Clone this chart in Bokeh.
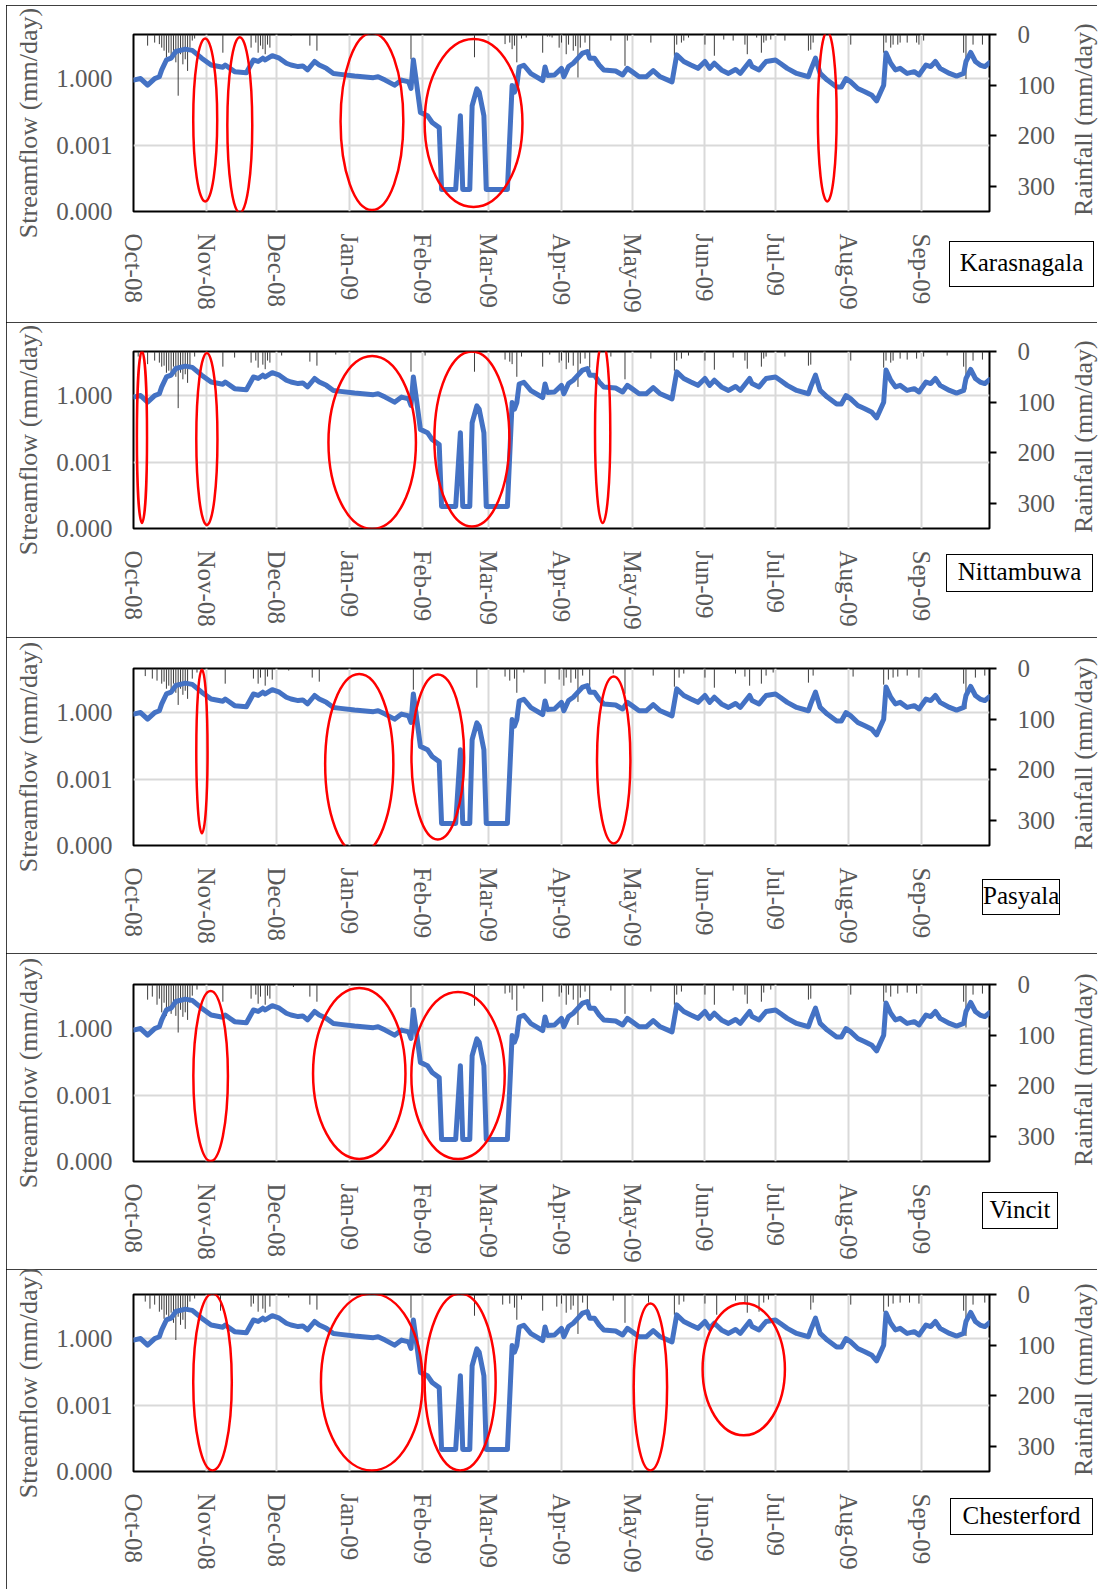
from bokeh.plotting import figure
from bokeh.models import Range1d, LinearAxis, LinearScale, FixedTicker, PrintfTickFormatter, ColumnDataSource, Div
from bokeh.layouts import column
from bokeh.embed import file_html
from bokeh.resources import INLINE

# ---------------- data ----------------
# x = days since 1 Oct 2008
month_days = [0, 31, 61, 92, 123, 151, 182, 212, 243, 273, 304, 335]
month_labels = ["Oct-08", "Nov-08", "Dec-08", "Jan-09", "Feb-09", "Mar-09",
                "Apr-09", "May-09", "Jun-09", "Jul-09", "Aug-09", "Sep-09"]

flow_day = [0, 3, 6, 9, 11, 12, 14, 16, 18, 22, 25, 29, 33, 38, 39, 43, 48, 51, 53, 55,
            56, 59, 62, 65, 67, 70, 72, 74, 77, 79, 82, 85, 88, 94, 102, 104, 107, 111, 114, 117,
            118, 119, 120, 122, 125, 127, 130, 131, 137, 139, 140, 143, 144, 146, 147, 149, 150, 159, 161, 162,
            163, 164, 166, 169, 174, 175, 176, 179, 182, 183, 185, 187, 189, 191, 193, 194, 196, 198, 200, 205,
            208, 210, 212, 215, 218, 221, 224, 229, 231, 234, 237, 240, 243, 245, 247, 250, 253, 256, 258, 262,
            263, 266, 269, 273, 275, 278, 282, 287, 288, 290, 292, 295, 299, 301, 303, 305, 308, 311, 314, 316,
            319, 320, 322, 324, 326, 329, 332, 334, 337, 339, 341, 343, 347, 350, 353, 354, 356, 358, 360, 362, 364]
flow_mm = [0.871, 1.02, 0.513, 1.02, 1.23, 2.51, 7.08, 8.51, 17.0, 21.9, 19.1, 8.51, 4.17, 3.31, 4.17, 2.09, 1.86, 7.08, 6.03, 8.51,
           7.08, 11.0, 8.51, 5.01, 4.17, 3.55, 3.80, 2.51, 6.03, 4.17, 2.95, 1.74, 1.58, 1.32, 1.12, 1.23, 0.871, 0.513, 0.871, 0.724,
           0.363, 7.08, 1.23, 0.0302, 0.0214, 0.0105, 0.00617, 0.00001, 0.00001, 0.0214, 0.00001, 0.00001, 0.0603, 0.347, 0.245, 0.0214, 0.00001, 0.00001, 0.490, 0.245,
           0.490, 3.39, 4.07, 1.70, 0.832, 3.39, 1.41, 1.48, 2.95, 1.23, 3.55, 5.01, 8.51, 14.5, 17.0, 8.51, 8.51, 4.17, 2.51, 2.24,
           1.48, 2.95, 2.09, 1.23, 1.23, 2.34, 1.23, 0.724, 12.0, 6.03, 4.17, 2.95, 6.03, 2.95, 5.01, 2.51, 1.74, 2.63, 1.74, 6.03,
           3.55, 2.51, 6.03, 7.08, 5.01, 2.95, 1.74, 1.23, 2.51, 8.51, 1.74, 0.871, 0.427, 0.427, 1.02, 0.724, 0.363, 0.257, 0.178, 0.100,
           0.513, 14.5, 5.01, 2.51, 2.95, 1.74, 2.09, 1.48, 4.17, 3.55, 6.03, 2.95, 1.74, 1.32, 1.74, 6.03, 15.5, 6.03, 4.17, 3.55, 5.37]

stations = ["Karasnagala", "Nittambuwa", "Pasyala", "Vincit", "Chesterford"]
left_title = "Streamflow (mm/day)"
right_title = "Rainfall (mm/day)"

rain_day_karasnagala = [6, 9, 11, 12, 13, 14, 15, 16, 17, 18, 19, 20, 21, 22, 23, 24, 25, 26,
                        38, 50, 52, 53, 54, 55, 56, 57, 58, 67, 75, 78,
                        118, 145, 158, 160, 161, 162, 163, 165, 167, 174, 176, 177, 178, 181, 182, 184, 185, 187, 188, 189,
                        190, 192, 194, 203, 209, 210, 220, 230, 231, 233, 234, 236, 243, 247, 251, 255, 260, 261, 265, 267,
                        268, 269, 271, 277, 287, 288, 289, 305, 319, 320, 322, 323, 325, 326, 329, 333, 334, 336, 353, 354, 357, 361]
rain_mm_karasnagala = [22, 16, 19, 26, 32, 45, 36, 49, 32, 55, 121, 39, 59, 49, 72, 26, 12, 8,
                       36, 26, 16, 36, 22, 29, 39, 20, 26, 3, 22, 32,
                       49, 45, 19, 16, 29, 22, 55, 8, 6, 36, 4, 4, 6, 26, 16, 39, 20, 32, 23, 85,
                       26, 16, 39, 12, 62, 12, 16, 42, 20, 16, 12, 6, 20, 42, 10, 12, 20, 39, 6, 36,
                       16, 12, 10, 12, 32, 30, 16, 20, 36, 16, 26, 20, 20, 16, 16, 16, 20, 12, 36, 88, 20, 20]

rain_day_nittambuwa = [2, 6, 9, 11, 12, 13, 14, 15, 16, 17, 18, 19, 20, 21, 22, 23, 24, 26, 38, 43,
                       50, 52, 53, 55, 56, 57, 58, 63, 75, 78, 86, 118, 124, 145, 158, 160, 161, 163, 165, 174,
                       177, 181, 182, 184, 185, 187, 189, 190, 192, 194, 203, 209, 220, 230, 231, 233, 236, 243, 247, 255,
                       260, 261, 267, 268, 269, 277, 287, 288, 305, 319, 320, 322, 323, 326, 329, 333, 336, 346, 353, 354,
                       357, 361]
rain_mm_nittambuwa = [10, 25, 18, 22, 30, 28, 42, 38, 45, 30, 50, 112, 42, 55, 45, 62, 30, 10, 30, 12,
                      22, 18, 32, 26, 35, 18, 22, 8, 20, 28, 6, 40, 8, 40, 16, 20, 25, 50, 10, 30,
                      6, 22, 18, 35, 22, 28, 70, 24, 14, 32, 10, 55, 14, 38, 18, 14, 8, 18, 36, 12,
                      18, 34, 30, 14, 10, 10, 28, 26, 18, 32, 18, 22, 18, 14, 16, 14, 10, 8, 30, 75,
                      18, 16]

rain_day_pasyala = [5, 8, 10, 12, 13, 14, 15, 16, 17, 18, 19, 20, 21, 22, 23, 25, 27, 39, 51, 53,
                    54, 56, 57, 59, 66, 76, 79, 119, 146, 158, 160, 162, 163, 166, 175, 181, 183, 184, 186, 188,
                    189, 191, 194, 204, 209, 221, 230, 232, 234, 243, 247, 256, 260, 262, 267, 269, 272, 287, 289, 306,
                    319, 321, 323, 325, 329, 334, 353, 354, 358, 362]
rain_mm_pasyala = [15, 20, 24, 30, 26, 40, 34, 44, 30, 48, 72, 40, 52, 44, 60, 20, 8, 30, 20, 30,
                   18, 34, 16, 22, 4, 18, 26, 42, 38, 16, 24, 20, 48, 8, 30, 22, 34, 18, 28, 20,
                   66, 14, 34, 10, 50, 14, 36, 18, 10, 18, 38, 10, 16, 34, 30, 14, 8, 28, 14, 16,
                   32, 22, 18, 16, 14, 18, 30, 80, 18, 14]

rain_day_vincit = [6, 8, 10, 11, 12, 13, 14, 15, 16, 17, 18, 19, 20, 21, 22, 23, 24, 25, 27, 38,
                   50, 52, 53, 54, 56, 57, 58, 68, 75, 78, 118, 145, 158, 160, 161, 163, 166, 174, 181, 182,
                   184, 185, 187, 189, 190, 192, 194, 203, 209, 220, 230, 231, 233, 243, 247, 255, 260, 261, 267, 268,
                   271, 287, 288, 305, 319, 320, 322, 325, 329, 333, 353, 354, 357, 361]
rain_mm_vincit = [30, 24, 40, 28, 55, 36, 62, 48, 58, 40, 62, 95, 50, 64, 55, 70, 36, 22, 10, 34,
                  28, 20, 38, 24, 40, 22, 28, 5, 24, 34, 45, 42, 18, 16, 30, 52, 8, 34, 24, 16,
                  40, 20, 30, 80, 26, 14, 36, 12, 58, 14, 40, 20, 14, 20, 40, 12, 20, 38, 34, 16,
                  10, 30, 28, 20, 34, 16, 24, 18, 16, 18, 34, 85, 20, 18]

rain_day_chesterford = [5, 7, 9, 11, 12, 13, 14, 15, 16, 17, 18, 19, 20, 21, 22, 23, 24, 26, 37, 50,
                        51, 53, 55, 56, 58, 66, 75, 78, 118, 145, 157, 160, 162, 163, 165, 174, 180, 182, 184, 186,
                        187, 189, 191, 193, 204, 209, 219, 230, 232, 234, 243, 248, 256, 260, 261, 266, 268, 270, 288, 289,
                        305, 319, 321, 323, 326, 330, 334, 353, 354, 357, 362]
rain_mm_chesterford = [14, 28, 20, 34, 30, 48, 40, 52, 36, 56, 90, 44, 60, 50, 68, 28, 14, 8, 32, 24,
                       18, 34, 28, 36, 24, 6, 20, 30, 46, 42, 20, 18, 26, 50, 10, 32, 24, 18, 36, 30,
                       22, 78, 16, 36, 12, 56, 16, 40, 20, 14, 18, 40, 12, 18, 36, 34, 16, 10, 30, 16,
                       20, 34, 24, 18, 16, 16, 18, 32, 82, 20, 16]

rain_days = [rain_day_karasnagala, rain_day_nittambuwa, rain_day_pasyala, rain_day_vincit, rain_day_chesterford]
rain_mms = [rain_mm_karasnagala, rain_mm_nittambuwa, rain_mm_pasyala, rain_mm_vincit, rain_mm_chesterford]

# highlighted periods: (centre day, width in days, centre on rainfall axis, height px)
ellipses = [
    [(30.5, 10.2, 169, 163), (45.2, 10.6, 179, 176), (101.4, 26.7, 172, 177), (144.6, 41.6, 175, 168), (295.0, 8.0, 162, 170)],
    [(3.6, 4.3, 169, 172), (31.2, 9.0, 173, 172), (101.5, 37.2, 180, 173), (143.9, 31.9, 173, 175), (199.5, 6.5, 160, 181)],
    [(29.1, 4.8, 164, 164), (96.0, 29.0, 189, 180), (129.4, 22.4, 175, 165), (204.2, 14.2, 181, 167)],
    [(32.8, 14.7, 181, 170), (96.0, 39.3, 176, 171), (138.0, 39.7, 180, 167)],
    [(33.6, 16.4, 173, 177), (101.3, 43.2, 173, 177), (138.9, 30.2, 173, 177), (219.8, 14.2, 183, 167), (259.5, 35.0, 148, 132)],
]

# ---------------- layout / style ----------------
FONT = "Liberation Serif"
GREY = "#595959"
PANEL_W = 1091
PANEL_HS = [317, 315, 316, 316, 320]
FRAME_TOPS = [29, 29, 31, 31, 25]
FRAME_H = 177
# station name boxes: (left, top, width, height) in px inside each panel
name_boxes = [(943, 236, 145, 46), (940, 232, 147, 38), (976, 242, 78, 36), (976, 239, 76, 37), (944, 229, 143, 37)]


def overlay(text, H, left, top, w, h, styles):
    """An HTML box drawn over the figure above it (zero net height in the column)."""
    return Div(text=text, width=w, height=h, margin=(-(H - top), 0, H - top - h, left), styles=styles)


def make_panel(i):
    H = PANEL_HS[i]
    top = FRAME_TOPS[i]
    p = figure(width=PANEL_W, height=H, y_axis_type="log",
               x_range=Range1d(0, 364), y_range=Range1d(1e-6, 1e2),
               output_backend="svg", toolbar_location=None,
               min_border_left=127, min_border_right=108, min_border_top=top,
               min_border_bottom=H - top - FRAME_H)
    p.extra_y_ranges = {"rain": Range1d(350, 0)}
    p.extra_y_scales = {"rain": LinearScale()}
    p.outline_line_color = "black"
    p.outline_line_width = 2
    p.background_fill_color = "white"
    p.border_fill_color = "white"

    p.xgrid.ticker = FixedTicker(ticks=month_days)
    p.xgrid.grid_line_color = "#D9D9D9"
    p.xgrid.grid_line_width = 2
    p.ygrid.ticker = FixedTicker(ticks=[1e-6, 1e-3, 1.0])
    p.ygrid.grid_line_color = "#D9D9D9"
    p.ygrid.grid_line_width = 2

    xa = p.xaxis[0]
    xa.ticker = FixedTicker(ticks=month_days)
    xa.major_label_overrides = {d: l for d, l in zip(month_days, month_labels)}
    xa.major_label_orientation = "vertical"
    xa.major_tick_line_color = None
    xa.minor_tick_line_color = None
    xa.axis_line_color = None
    xa.major_label_standoff = 16
    xa.major_label_text_font = FONT
    xa.major_label_text_font_size = "25px"
    xa.major_label_text_color = GREY

    ya = p.yaxis[0]
    ya.ticker = FixedTicker(ticks=[1e-6, 1e-3, 1.0])
    ya.formatter = PrintfTickFormatter(format="%.3f")
    ya.major_tick_line_color = None
    ya.minor_tick_line_color = None
    ya.axis_line_color = None
    ya.major_label_standoff = 15
    ya.major_label_text_font = FONT
    ya.major_label_text_font_size = "25px"
    ya.major_label_text_color = GREY
    ya.axis_label = left_title
    ya.axis_label_text_font = FONT
    ya.axis_label_text_font_size = "26px"
    ya.axis_label_text_font_style = "normal"
    ya.axis_label_text_color = GREY
    ya.axis_label_standoff = 10

    ra = LinearAxis(y_range_name="rain", ticker=FixedTicker(ticks=[0, 100, 200, 300]))
    ra.major_tick_out = 7
    ra.major_tick_in = 0
    ra.major_tick_line_color = "black"
    ra.major_tick_line_width = 2
    ra.minor_tick_line_color = None
    ra.axis_line_color = None
    ra.major_label_standoff = 21
    ra.major_label_text_font = FONT
    ra.major_label_text_font_size = "25px"
    ra.major_label_text_color = GREY
    p.add_layout(ra, "right")

    rs = ColumnDataSource(dict(d=rain_days[i], mm=rain_mms[i], z=[0] * len(rain_days[i])))
    p.segment(x0="d", y0="z", x1="d", y1="mm", source=rs, y_range_name="rain",
              line_color="#3C3C3C", line_width=1)

    p.line(flow_day, flow_mm, line_color="#4472C4", line_width=5, line_join="round", line_cap="round")

    ex = [e[0] for e in ellipses[i]]
    ew = [e[1] for e in ellipses[i]]
    ey = [e[2] for e in ellipses[i]]
    eh = [e[3] for e in ellipses[i]]
    p.ellipse(x=ex, y=ey, width=ew, height=eh, height_units="screen", y_range_name="rain",
              fill_color=None, line_color="#FF0000", line_width=2.5)

    p.styles = {"outline": "1.5px solid black", "outline-offset": "-1.5px"}

    # right-hand axis title, reading bottom-to-top
    title = overlay(right_title, H, 1062, top - 14, 32, 200,
                    {"writing-mode": "vertical-rl", "transform": "rotate(180deg)",
                     "font-family": FONT, "font-size": "26px", "color": GREY,
                     "text-align": "center", "line-height": "32px", "white-space": "nowrap"})

    bl, bt, bw, bh = name_boxes[i]
    box = overlay(stations[i], H, bl, bt, bw, bh,
                  {"border": "1.5px solid black", "box-sizing": "border-box",
                   "background-color": "white", "font-family": FONT, "font-size": "25px",
                   "color": "black", "text-align": "center", "line-height": f"{bh - 4}px",
                   "white-space": "nowrap", "overflow": "hidden"})
    return [p, title, box]


children = []
for i in range(5):
    children.extend(make_panel(i))
layout = column(*children, spacing=0, margin=(5, 0, 0, 6))
open("out.html", "w").write(file_html(layout, INLINE))
